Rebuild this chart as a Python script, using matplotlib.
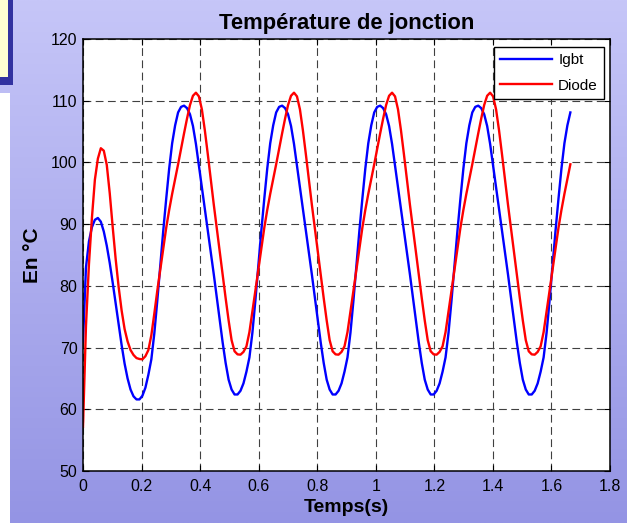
import numpy as np
import matplotlib
matplotlib.use("Agg")
import matplotlib.pyplot as plt
from matplotlib.patches import Rectangle

plt.rcParams['font.family'] = ['Liberation Sans', 'DejaVu Sans']

# ---- data ----
sample_step = 0.01015  # seconds between samples
n_samples = 165

igbt = [
    71.0, 83.0, 87.2, 89.5, 90.7, 91.0, 90.4, 88.8, 86.5, 83.7, 80.5, 77.1, 73.7, 70.4, 67.4, 65.0, 63.2, 62.1,
    61.6, 61.6, 62.2, 63.5, 65.6, 68.1, 72.3, 77.6, 83.3, 88.9, 94.1, 99.0, 103.1, 106.0, 108.1, 109.0, 109.2,
    108.8, 107.8, 105.9, 103.0, 99.5, 96.0, 92.5, 88.9, 85.4, 81.9, 78.2, 74.6, 70.8, 67.5, 64.8, 63.2,
    62.4, 62.4, 63.0, 64.2, 66.1, 68.4, 72.4, 77.6, 83.3, 88.9, 94.1, 99.0, 103.1, 106.0, 108.1, 109.0, 109.2,
    108.8, 107.8, 105.9, 103.0, 99.5, 96.0, 92.5, 88.9, 85.4, 81.9, 78.2, 74.6, 70.8, 67.5, 64.8, 63.2,
    62.4, 62.4, 63.0, 64.2, 66.1, 68.4, 72.4, 77.6, 83.3, 88.9, 94.1, 99.0, 103.1, 106.0, 108.1, 109.0, 109.2,
    108.8, 107.8, 105.9, 103.0, 99.5, 96.0, 92.5, 88.9, 85.4, 81.9, 78.2, 74.6, 70.8, 67.5, 64.8, 63.2,
    62.4, 62.4, 63.0, 64.2, 66.1, 68.4, 72.4, 77.6, 83.3, 88.9, 94.1, 99.0, 103.1, 106.0, 108.1, 109.0, 109.2,
    108.8, 107.8, 105.9, 103.0, 99.5, 96.0, 92.5, 88.9, 85.4, 81.9, 78.2, 74.6, 70.8, 67.5, 64.8, 63.2,
    62.4, 62.4, 63.0, 64.2, 66.1, 68.4, 72.4, 77.6, 83.3, 88.9, 94.1, 99.0, 103.1, 106.0, 108.1,
]

diode = [
    57.2, 73.5, 83.5, 91.0, 97.2, 100.6, 102.3, 101.9, 99.6, 95.0, 89.5, 84.3, 79.8, 76.0, 73.0, 71.0, 69.6, 68.8, 68.3,
    68.15, 68.1, 68.6, 69.6, 72.0, 75.5, 79.2, 82.6, 86.0, 89.4, 92.3, 94.9, 97.3, 99.7, 102.2, 104.7, 107.1, 109.3,
    110.8, 111.3, 110.7, 108.6, 105.2, 101.3, 97.2, 93.2, 89.4, 85.6, 81.9, 78.0, 74.4, 71.2, 69.4,
    68.9, 68.85, 69.3, 70.2, 72.5, 75.8, 79.2, 82.6, 86.0, 89.4, 92.3, 94.9, 97.3, 99.7, 102.2, 104.7, 107.1, 109.3,
    110.8, 111.3, 110.7, 108.6, 105.2, 101.3, 97.2, 93.2, 89.4, 85.6, 81.9, 78.0, 74.4, 71.2, 69.4,
    68.9, 68.85, 69.3, 70.2, 72.5, 75.8, 79.2, 82.6, 86.0, 89.4, 92.3, 94.9, 97.3, 99.7, 102.2, 104.7, 107.1, 109.3,
    110.8, 111.3, 110.7, 108.6, 105.2, 101.3, 97.2, 93.2, 89.4, 85.6, 81.9, 78.0, 74.4, 71.2, 69.4,
    68.9, 68.85, 69.3, 70.2, 72.5, 75.8, 79.2, 82.6, 86.0, 89.4, 92.3, 94.9, 97.3, 99.7, 102.2, 104.7, 107.1, 109.3,
    110.8, 111.3, 110.7, 108.6, 105.2, 101.3, 97.2, 93.2, 89.4, 85.6, 81.9, 78.0, 74.4, 71.2, 69.4,
    68.9, 68.85, 69.3, 70.2, 72.5, 75.8, 79.2, 82.6, 86.0, 89.4, 92.3, 94.9, 97.3, 99.7,
]

series_labels = ["Igbt", "Diode"]
x_ticks = [0, 0.2, 0.4, 0.6, 0.8, 1, 1.2, 1.4, 1.6, 1.8]
x_tick_labels = ["0", "0.2", "0.4", "0.6", "0.8", "1", "1.2", "1.4", "1.6", "1.8"]
y_ticks = [50, 60, 70, 80, 90, 100, 110, 120]
title = "Température de jonction"
xlabel = "Temps(s)"
ylabel = "En °C"

t = np.arange(n_samples) * sample_step

# ---- figure ----
W, H = 627, 523
fig = plt.figure(figsize=(W / 100, H / 100), dpi=100)

# background decoration
bg = fig.add_axes([0, 0, 1, 1], zorder=-10)
bg.set_xlim(0, W)
bg.set_ylim(H, 0)
bg.axis('off')
top = np.array([198, 198, 248]) / 255
bot = np.array([148, 148, 228]) / 255
g = np.linspace(0, 1, 256)[:, None, None]
grad = top * (1 - g) + bot * g
grad = np.repeat(grad, 2, axis=1)
bg.imshow(grad, extent=(0, W, H, 0), aspect='auto', interpolation='bilinear')
bg.add_patch(Rectangle((0, 93), 10, H - 93, color='white', lw=0))
bg.add_patch(Rectangle((0, 0), 13.3, 85, color='#3232A0', lw=0))
bg.add_patch(Rectangle((0, 0), 8.3, 76.7, color='#FFFFD2', lw=0))

ax_w, ax_h = 527, 432
ax = fig.add_axes([83 / W, 1 - 471 / H, ax_w / W, ax_h / H])
ax.set_facecolor('white')
ax.plot(t, igbt, color='#0000FF', lw=1.7, label=series_labels[0])
ax.plot(t, diode, color='#FF0000', lw=1.7, label=series_labels[1])

ax.set_xlim(0, 1.8)
ax.set_ylim(50, 120)
ax.set_xticks(x_ticks)
ax.set_xticklabels(x_tick_labels)
ax.set_yticks(y_ticks)
ax.tick_params(direction='in', length=4, width=0.8, top=True, right=True,
               labelsize=11.5, colors='black')
ax.tick_params(axis='x', pad=6)
ax.tick_params(axis='y', pad=4)
for s in ax.spines.values():
    s.set_linewidth(1.1)
    s.set_color('black')
ax.grid(True, color='#404040', linestyle=(0, (7, 4)), linewidth=0.8)
ax.set_axisbelow(True)

ax.set_title(title, fontsize=15.8, fontweight='bold', pad=7)
ax.set_xlabel(xlabel, fontsize=14, fontweight='bold', labelpad=3)
ax.set_ylabel(ylabel, fontsize=15, fontweight='bold', labelpad=6)

leg = ax.legend(loc='upper right', bbox_to_anchor=(1 - 6 / ax_w, 1 - 8 / ax_h),
                borderaxespad=0, fontsize=11, frameon=True, fancybox=False,
                edgecolor='black', framealpha=1, handlelength=3.4,
                borderpad=0.4, labelspacing=0.75, handletextpad=0.4)
leg.get_frame().set_linewidth(1.0)

fig.savefig('out.png', dpi=100)
